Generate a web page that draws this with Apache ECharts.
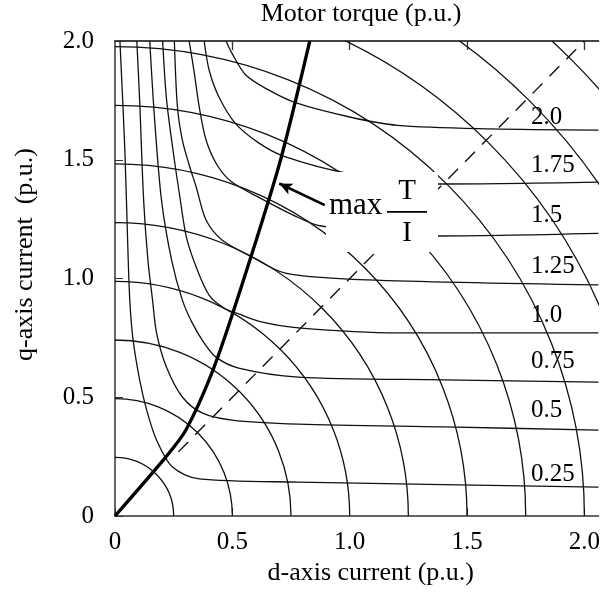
<!DOCTYPE html>
<html><head><meta charset="utf-8">
<script src="https://cdn.jsdelivr.net/npm/echarts@6/dist/echarts.min.js"></script>
<style>html,body{margin:0;padding:0;background:#fff}#c{width:603px;height:594px}</style>
</head><body><div id="c"></div>
<script>
const xTicks = [0, 0.5, 1.0, 1.5, 2.0];
const yTicks = [0, 0.5, 1.0, 1.5, 2.0];
const circleRadii = [0.25, 0.5, 0.75, 1.0, 1.25, 1.5, 1.75, 2.0, 2.25, 2.5, 2.75];
const torqueLevels = ['2.0', '1.75', '1.5', '1.25', '1.0', '0.75', '0.5', '0.25'];

const torque025 = [[0.021,2.0],[0.042,1.54],[0.055,1.12],[0.063,0.909],[0.076,0.75],[0.105,0.573],[0.135,0.446],[0.177,0.32],[0.245,0.206],[0.359,0.156],[0.781,0.143],[2.06,0.122]];
const torque050 = [[0.093,2.0],[0.105,1.75],[0.122,1.33],[0.14,1.08],[0.16,0.909],[0.177,0.771],[0.219,0.627],[0.287,0.501],[0.371,0.434],[0.498,0.404],[0.781,0.387],[1.4,0.375],[2.06,0.362]];
const torque075 = [[0.148,2.0],[0.169,1.667],[0.198,1.331],[0.241,1.078],[0.287,0.909],[0.329,0.813],[0.38,0.728],[0.43,0.669],[0.527,0.623],[0.781,0.585],[1.4,0.573],[2.06,0.564]];
const torque100 = [[0.203,2.0],[0.22,1.75],[0.253,1.499],[0.274,1.36],[0.304,1.175],[0.346,1.048],[0.401,0.93],[0.464,0.876],[0.527,0.851],[0.624,0.817],[0.781,0.792],[1.203,0.771],[2.06,0.771]];
const torque125 = [[0.253,2.0],[0.266,1.722],[0.287,1.583],[0.316,1.478],[0.346,1.385],[0.388,1.246],[0.456,1.162],[0.582,1.091],[0.726,1.023],[1.076,0.994],[2.06,0.973]];
const torque150 = [[0.316,2.0],[0.338,1.865],[0.359,1.722],[0.388,1.583],[0.435,1.478],[0.498,1.406],[0.633,1.331],[0.759,1.267],[0.878,1.221],[1.363,1.179],[2.06,1.19]];
const torque175 = [[0.38,2.0],[0.401,1.878],[0.443,1.764],[0.513,1.653],[0.612,1.571],[0.724,1.513],[0.987,1.444],[1.367,1.398],[2.06,1.406]];
const torque200 = [[0.473,2.0],[0.498,1.949],[0.557,1.857],[0.654,1.794],[0.772,1.739],[1.0,1.68],[1.203,1.645],[1.6,1.63],[2.06,1.625]];
const mtpa = [[0,0],[0.218,0.25],[0.302,0.362],[0.415,0.608],[0.52,0.909],[0.70,1.48],[0.83,2.0]];
const diagonal = [[0.27,0.27],[2.0,2.0]];
const arrowLine = [[0.894,1.309],[0.70,1.40]];

const torqueCurves = [torque025, torque050, torque075, torque100, torque125, torque150, torque175, torque200];

const FONT = 'Liberation Serif';
const LINE = '#111';
const chart = echarts.init(document.getElementById('c'), null, {renderer: 'canvas'});

const fmt = v => (v === 0 ? '0' : v.toFixed(1));

const series = [];
series.push({
  type: 'custom', name: 'current', coordinateSystem: 'cartesian2d', clip: true, silent: true,
  data: circleRadii.map(r => [r, 0]),
  renderItem: function (params, api) {
    const r = api.value(0);
    const c = api.coord([0, 0]);
    const s = api.size([r, r]);
    return {
      type: 'arc',
      shape: {cx: c[0], cy: c[1], r: s[0], startAngle: -Math.PI / 2, endAngle: 0, clockwise: true},
      style: {fill: 'none', stroke: LINE, lineWidth: 1.3}
    };
  },
  z: 2
});
torqueCurves.forEach((d, i) => {
  series.push({
    type: 'line', data: d, smooth: 0.3, showSymbol: false, symbol: 'none', clip: true, silent: true,
    lineStyle: {color: LINE, width: 1.3}, z: 2
  });
});
series.push({
  type: 'line', data: diagonal, showSymbol: false, symbol: 'none', silent: true,
  lineStyle: {color: LINE, width: 1.4, type: [14, 10]}, z: 2
});
series.push({
  type: 'line', data: mtpa, smooth: 0.25, showSymbol: false, symbol: 'none', silent: true,
  lineStyle: {color: '#000', width: 3.3}, z: 3
});

const labelY = [117, 165, 215, 266, 315, 361, 410, 474];
const graphics = [
  {type: 'rect', shape: {x: 326, y: 172, width: 112, height: 80}, style: {fill: '#fff'}, z: 50, silent: true},
  {type: 'text', x: 329, y: 221, z: 60, style: {text: 'max', font: '31px "' + FONT + '"', fill: '#000', textAlign: 'left', textVerticalAlign: 'bottom'}},
  {type: 'text', x: 407, y: 191, z: 60, style: {text: 'T', font: '29px "' + FONT + '"', fill: '#000', textAlign: 'center', textVerticalAlign: 'middle'}},
  {type: 'rect', shape: {x: 387, y: 211, width: 40, height: 1.8}, style: {fill: '#000'}, z: 60},
  {type: 'text', x: 407, y: 233, z: 60, style: {text: 'I', font: '29px "' + FONT + '"', fill: '#000', textAlign: 'center', textVerticalAlign: 'middle'}},
  {type: 'text', x: 361, y: 14, z: 60, style: {text: 'Motor torque (p.u.)', font: '26px "' + FONT + '"', fill: '#000', textAlign: 'center', textVerticalAlign: 'middle'}}
];
torqueLevels.forEach((t, i) => {
  graphics.push({type: 'text', x: 531, y: labelY[i], z: 60,
    style: {text: t, font: '25px "' + FONT + '"', fill: '#000', textAlign: 'left', textVerticalAlign: 'middle'}});
});

chart.setOption({
  animation: false,
  backgroundColor: '#fff',
  grid: {left: 115, top: 41, right: 0, bottom: 78, show: false},
  xAxis: [{
    type: 'value', min: 0, max: 2.06, position: 'bottom',
    name: 'd-axis current (p.u.)', nameLocation: 'middle', nameGap: 41,
    nameTextStyle: {fontFamily: FONT, fontSize: 26, color: '#000', padding: [0, 0, 0, 28]},
    axisLine: {show: true, onZero: false, lineStyle: {color: '#333', width: 1.5}},
    axisTick: {show: true, inside: true, length: 8, customValues: xTicks, lineStyle: {color: '#333'}},
    axisLabel: {customValues: xTicks, formatter: fmt, fontFamily: FONT, fontSize: 25, color: '#000', margin: 14},
    splitLine: {show: false}
  }, {
    type: 'value', min: 0, max: 2.06, position: 'top',
    axisLine: {show: true, onZero: false, lineStyle: {color: '#444', width: 2}},
    axisTick: {show: true, inside: true, length: 9, customValues: [0.5, 1.0, 1.5, 2.0], lineStyle: {color: '#333', width: 1.3}},
    axisLabel: {show: false}, splitLine: {show: false}
  }],
  yAxis: {
    type: 'value', min: 0, max: 2.0,
    name: 'q-axis current  (p.u.)', nameLocation: 'middle', nameGap: 77,
    nameTextStyle: {fontFamily: FONT, fontSize: 26, color: '#000', padding: [0, 0, 0, 48]},
    axisLine: {show: true, onZero: false, lineStyle: {color: '#333', width: 1.5}},
    axisTick: {show: true, inside: true, length: 8, customValues: yTicks, lineStyle: {color: '#333'}},
    axisLabel: {customValues: yTicks, formatter: fmt, fontFamily: FONT, fontSize: 25, color: '#000', margin: 21},
    splitLine: {show: false}
  },
  series: series,
  graphic: graphics
});
chart.setOption({
  series: [{}, {}, {}, {}, {}, {}, {}, {}, {}, {}, {
    markLine: {
      silent: true, symbol: ['none', 'arrow'], symbolSize: [9, 13], label: {show: false},
      lineStyle: {color: '#000', width: 2.6, type: 'solid'},
      data: [[{coord: arrowLine[0]}, {coord: arrowLine[1]}]]
    }
  }]
});
</script></body></html>
